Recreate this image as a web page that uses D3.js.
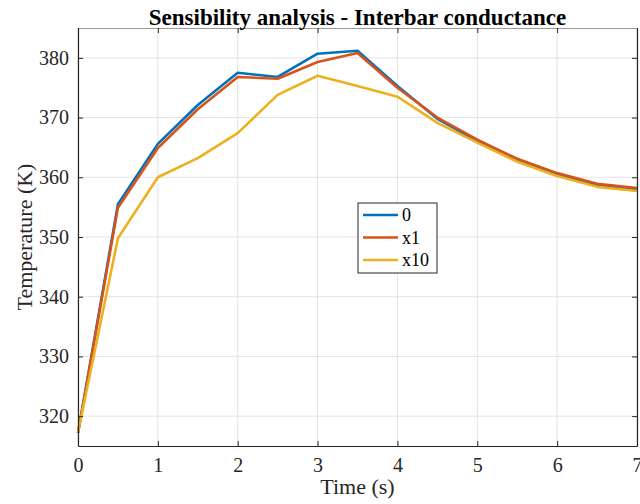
<!DOCTYPE html>
<html>
<head>
<meta charset="utf-8">
<script src="https://cdn.jsdelivr.net/npm/d3@7"></script>
<style>
  body { margin: 0; background: #fff; }
  text { font-family: "Liberation Serif", "Times New Roman", serif; }
</style>
</head>
<body>
<div class="chart-area"></div>
<script>
// time samples (s)
var times = [0, 0.5, 1, 1.5, 2, 2.5, 3, 3.5, 4, 4.5, 5, 5.5, 6, 6.5, 7];
var seriesNames = ["0", "x1", "x10"];
var tempZero = [317.2, 355.5, 365.6, 372.1, 377.5, 376.8, 380.7, 381.2, 375.3, 369.8, 366.1, 363.0, 360.5, 358.7, 358.0];
var tempX1   = [317.2, 354.9, 364.9, 371.4, 376.8, 376.5, 379.3, 380.8, 375.0, 370.0, 366.3, 363.1, 360.7, 358.9, 358.2];
var tempX10  = [317.2, 349.8, 360.0, 363.2, 367.4, 373.8, 377.0, 375.3, 373.5, 369.1, 365.8, 362.6, 360.2, 358.4, 357.7];
var xTicks = [0, 1, 2, 3, 4, 5, 6, 7];
var yTicks = [320, 330, 340, 350, 360, 370, 380];

var colors = ["#0072BD", "#D95319", "#EDB120"];
var allSeries = [tempZero, tempX1, tempX10];

var W = 640, H = 504;
var margin = {top: 28, right: 3, bottom: 58, left: 78},
    width = W - margin.left - margin.right,
    height = H - margin.top - margin.bottom;

var svg = d3.select(".chart-area").append("svg")
    .attr("width", W)
    .attr("height", H);

var g = svg.append("g")
    .attr("transform", "translate(" + margin.left + "," + margin.top + ")");

var x = d3.scaleLinear().domain([0, 7]).range([0, width]);
var y = d3.scaleLinear().domain([315, 385]).range([height, 0]);

// grid
g.append("g").selectAll("line").data(xTicks).enter().append("line")
    .attr("x1", d => x(d)).attr("x2", d => x(d))
    .attr("y1", 0).attr("y2", height)
    .attr("stroke", "#e3e3e3").attr("stroke-width", 1);
g.append("g").selectAll("line").data(yTicks).enter().append("line")
    .attr("x1", 0).attr("x2", width)
    .attr("y1", d => y(d)).attr("y2", d => y(d))
    .attr("stroke", "#e3e3e3").attr("stroke-width", 1);

// lines
var line = d3.line()
    .x((d, i) => x(times[i]))
    .y(d => y(d));

allSeries.forEach(function(s, k) {
    g.append("path")
        .datum(s)
        .attr("fill", "none")
        .attr("stroke", colors[k])
        .attr("stroke-width", 2.6)
        .attr("stroke-linejoin", "round")
        .attr("d", line);
});

// axes (ticks inside, box on)
function styleAxis(sel) {
    sel.attr("font-family", null).attr("font-size", null);
    sel.select(".domain").attr("stroke", "#262626").attr("stroke-width", 1.2);
    sel.selectAll(".tick line").attr("stroke", "#262626");
    sel.selectAll(".tick text")
        .attr("fill", "#262626")
        .style("font-size", "20px")
        .style("font-family", "'Liberation Serif', serif");
}

var xAxis = g.append("g")
    .attr("transform", "translate(0," + height + ")")
    .call(d3.axisBottom(x).tickValues(xTicks).tickSizeInner(-5).tickSizeOuter(0).tickPadding(12).tickFormat(d3.format("d")));
styleAxis(xAxis);

var xAxisTop = g.append("g")
    .call(d3.axisTop(x).tickValues(xTicks).tickSizeInner(-5).tickSizeOuter(0).tickFormat(""));
styleAxis(xAxisTop);
xAxisTop.select(".domain").attr("stroke", "#999");

var yAxis = g.append("g")
    .call(d3.axisLeft(y).tickValues(yTicks).tickSizeInner(-5).tickSizeOuter(0).tickPadding(9).tickFormat(d3.format("d")));
styleAxis(yAxis);

var yAxisRight = g.append("g")
    .attr("transform", "translate(" + width + ",0)")
    .call(d3.axisRight(y).tickValues(yTicks).tickSizeInner(-5).tickSizeOuter(0).tickFormat(""));
styleAxis(yAxisRight);

// axis labels
g.append("text")
    .attr("x", width / 2)
    .attr("y", height + 48)
    .attr("text-anchor", "middle")
    .attr("fill", "#262626")
    .style("font-size", "22px")
    .text("Time (s)");

g.append("text")
    .attr("transform", "rotate(-90)")
    .attr("x", -height / 2)
    .attr("y", -46)
    .attr("text-anchor", "middle")
    .attr("fill", "#262626")
    .style("font-size", "22px")
    .text("Temperature (K)");

// title
g.append("text")
    .attr("x", width / 2)
    .attr("y", -3)
    .attr("text-anchor", "middle")
    .attr("fill", "#000")
    .style("font-size", "23px")
    .style("font-weight", "bold")
    .text("Sensibility analysis - Interbar conductance");

// legend
var legend = g.append("g")
    .attr("transform", "translate(" + (358 - margin.left) + "," + (203 - margin.top) + ")");
legend.append("rect")
    .attr("width", 79).attr("height", 70)
    .attr("fill", "#fff")
    .attr("stroke", "#262626").attr("stroke-width", 1);
seriesNames.forEach(function(name, k) {
    var ly = 12 + k * 22.5;
    legend.append("line")
        .attr("x1", 5).attr("x2", 40)
        .attr("y1", ly).attr("y2", ly)
        .attr("stroke", colors[k]).attr("stroke-width", 2.6);
    legend.append("text")
        .attr("x", 44).attr("y", ly + 6)
        .attr("fill", "#000")
        .style("font-size", "18px")
        .text(name);
});
</script>
</body>
</html>
